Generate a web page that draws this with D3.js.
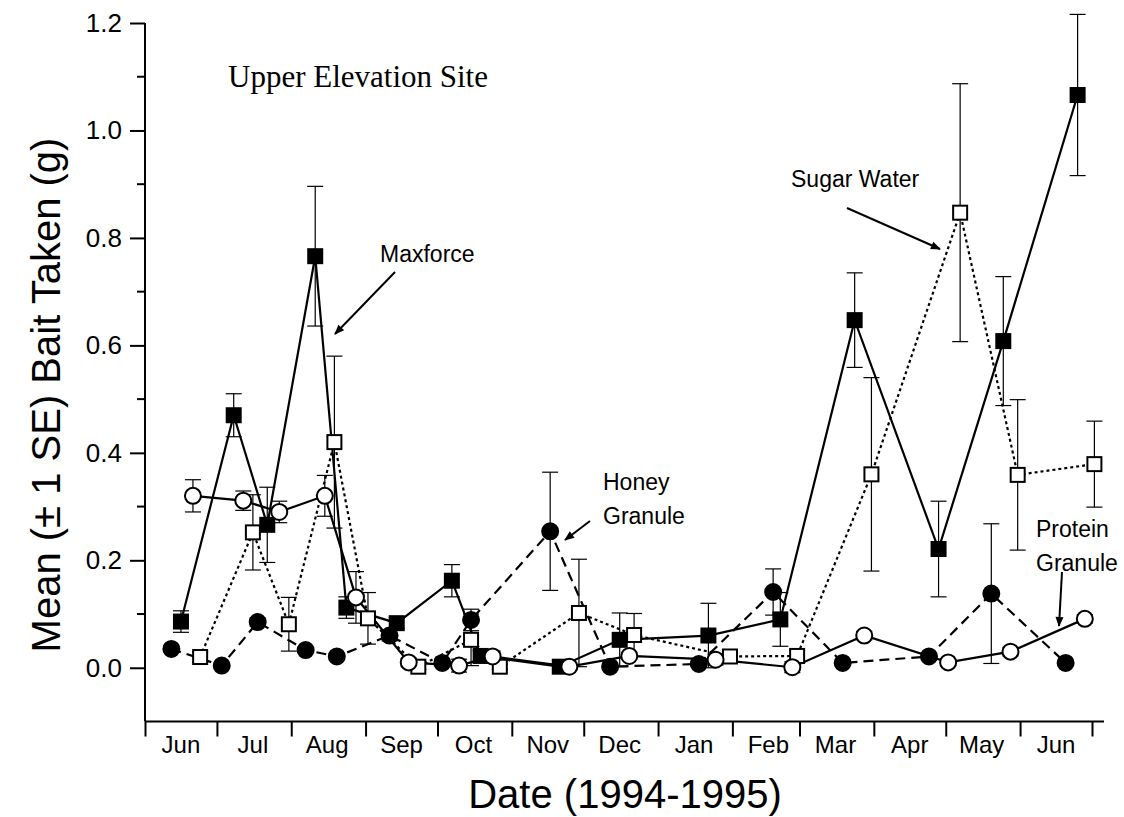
<!DOCTYPE html>
<html>
<head>
<meta charset="utf-8">
<script src="https://cdn.jsdelivr.net/npm/d3@7"></script>
<style>
  body { margin: 0; background: #fff; }
  svg { display: block; }
  text { font-family: Arial, "Liberation Sans", sans-serif; fill: #000; }
</style>
</head>
<body>
<svg id="chart" width="1124" height="817"></svg>
<script>
// sampling dates, means and SE
const maxforceDates = ["1994-06-16","1994-07-08","1994-07-22","1994-08-11","1994-08-24","1994-09-14","1994-10-07","1994-10-19","1994-11-21","1994-12-16","1995-01-22","1995-02-21","1995-03-24","1995-04-28","1995-05-25","1995-06-25"];
const maxforceMean = [0.086,0.47,0.266,0.766,0.112,0.083,0.162,0.022,0.002,0.052,0.06,0.09,0.647,0.221,0.608,1.066];
const maxforceSE = [0.02,0.04,0.07,0.13,0.02,0.01,0.03,0.01,0,0.05,0.06,0.05,0.088,0.089,0.12,0.15];

const sugarDates = ["1994-06-24","1994-07-16","1994-07-31","1994-08-19","1994-09-02","1994-09-23","1994-10-15","1994-10-27","1994-11-29","1994-12-22","1995-01-31","1995-02-28","1995-03-31","1995-05-07","1995-05-31","1995-07-02"];
const sugarMean = [0.02,0.252,0.081,0.42,0.092,0.002,0.052,0.002,0.102,0.061,0.021,0.022,0.36,0.847,0.359,0.379];
const sugarSE = [0.01,0.07,0.05,0.16,0.048,0.005,0.048,0.005,0.1,0.04,0.01,0.01,0.18,0.24,0.14,0.08];

const honeyDates = ["1994-06-12","1994-07-03","1994-07-18","1994-08-07","1994-08-20","1994-09-11","1994-10-03","1994-10-15","1994-11-17","1994-12-12","1995-01-18","1995-02-18","1995-03-19","1995-04-24","1995-05-20","1995-06-20"];
const honeyMean = [0.035,0.004,0.085,0.033,0.021,0.06,0.009,0.089,0.254,0.002,0.007,0.141,0.009,0.021,0.138,0.009];
const honeySE = [0.005,0.003,0.008,0.005,0.005,0.01,0.005,0.02,0.11,0.002,0.004,0.043,0.004,0.005,0.13,0.004];

const proteinDates = ["1994-06-21","1994-07-12","1994-07-27","1994-08-15","1994-08-28","1994-09-19","1994-10-10","1994-10-24","1994-11-25","1994-12-20","1995-01-25","1995-02-26","1995-03-28","1995-05-02","1995-05-28","1995-06-28"];
const proteinMean = [0.32,0.311,0.29,0.32,0.131,0.01,0.004,0.021,0.002,0.022,0.015,0.001,0.06,0.01,0.03,0.091];
const proteinSE = [0.03,0.018,0.02,0.038,0.048,0.008,0.012,0.01,0.004,0.006,0.01,0.01,0.008,0.006,0.008,0.008];

const yMajorTicks = [0, 0.2, 0.4, 0.6, 0.8, 1.0, 1.2];
const yMinorTicks = [0.1, 0.3, 0.5, 0.7, 0.9, 1.1];

const parse = d3.timeParse("%Y-%m-%d");
const mk = (dates, mean, se) => dates.map((d, i) => ({ date: parse(d), v: mean[i], se: se[i] }));

const series = [
  { name: "Maxforce", data: mk(maxforceDates, maxforceMean, maxforceSE), shape: "square", fill: "#000", dash: null },
  { name: "Sugar Water", data: mk(sugarDates, sugarMean, sugarSE), shape: "square", fill: "#fff", dash: "3,3" },
  { name: "Honey Granule", data: mk(honeyDates, honeyMean, honeySE), shape: "circle", fill: "#000", dash: "10,6" },
  { name: "Protein Granule", data: mk(proteinDates, proteinMean, proteinSE), shape: "circle", fill: "#fff", dash: null },
];

const svg = d3.select("#chart");

const x = d3.scaleTime()
  .domain([parse("1994-06-01"), parse("1995-07-01")])
  .range([145, 1092]);
const y = d3.scaleLinear()
  .domain([-0.1, 1.2])
  .range([721.5, 23]);
const xEnd = 1104;

// arrowhead
svg.append("defs").append("marker")
  .attr("id", "arrow")
  .attr("viewBox", "0 0 10 10")
  .attr("refX", 9).attr("refY", 5)
  .attr("markerWidth", 13).attr("markerHeight", 10)
  .attr("markerUnits", "userSpaceOnUse")
  .attr("orient", "auto")
  .append("path")
  .attr("d", "M0,1 L10,5 L0,9 z")
  .attr("fill", "#000");

// y axis
const yAxis = svg.append("g")
  .attr("transform", "translate(145,0)")
  .call(d3.axisLeft(y).tickValues(yMajorTicks).tickSize(15).tickPadding(8).tickFormat(d3.format(".1f")));
yAxis.selectAll("text").style("font-size", "26px");
yAxis.select(".domain").attr("stroke-width", 2).attr("d", `M0,${y(-0.1)}V${y(1.2)}`);
yAxis.selectAll(".tick line").attr("stroke-width", 2);
svg.append("g")
  .attr("transform", "translate(145,0)")
  .selectAll("line")
  .data(yMinorTicks)
  .join("line")
  .attr("x1", -8).attr("x2", 0)
  .attr("y1", d => y(d)).attr("y2", d => y(d))
  .attr("stroke", "#000").attr("stroke-width", 2);

// x axis: month boundary ticks, labels centred in each month
const monthStarts = d3.timeMonth.range(parse("1994-06-01"), parse("1995-07-02"));
const xAxis = svg.append("g")
  .attr("transform", `translate(0,${y(-0.1)})`)
  .call(d3.axisBottom(x).tickValues(monthStarts).tickSize(15).tickFormat(""));
xAxis.select(".domain").attr("stroke-width", 2).attr("d", `M145,0H${xEnd}`);
xAxis.selectAll(".tick line").attr("stroke-width", 2);
svg.append("g")
  .selectAll("text")
  .data(monthStarts.slice(0, -1))
  .join("text")
  .attr("x", d => x(d3.timeDay.offset(d, 15)))
  .attr("y", 753)
  .attr("text-anchor", "middle")
  .style("font-size", "24px")
  .text(d3.timeFormat("%b"));

// axis titles
svg.append("text")
  .attr("x", 625).attr("y", 808)
  .attr("text-anchor", "middle")
  .style("font-size", "40px")
  .text("Date (1994-1995)");
svg.append("text")
  .attr("transform", "translate(60,395) rotate(-90)")
  .attr("text-anchor", "middle")
  .style("font-size", "40px")
  .text("Mean (± 1 SE) Bait Taken (g)");

// lines
const line = d3.line().x(d => x(d.date)).y(d => y(d.v));
svg.append("g")
  .selectAll("path")
  .data(series)
  .join("path")
  .attr("d", s => line(s.data))
  .attr("fill", "none")
  .attr("stroke", "#000")
  .attr("stroke-width", 2.2)
  .attr("stroke-dasharray", s => s.dash);

// error bars
const err = svg.append("g").attr("stroke", "#000").attr("stroke-width", 1.2);
series.forEach(s => {
  s.data.filter(d => d.se > 0).forEach(d => {
    const cx = x(d.date);
    err.append("line").attr("x1", cx).attr("x2", cx).attr("y1", y(d.v - d.se)).attr("y2", y(d.v + d.se));
    [d.v - d.se, d.v + d.se].forEach(e => {
      err.append("line").attr("x1", cx - 8).attr("x2", cx + 8).attr("y1", y(e)).attr("y2", y(e));
    });
  });
});

// markers
series.forEach(s => {
  const g = svg.append("g");
  if (s.shape === "square") {
    g.selectAll("rect")
      .data(s.data)
      .join("rect")
      .attr("x", d => x(d.date) - 7)
      .attr("y", d => y(d.v) - 7)
      .attr("width", 14).attr("height", 14)
      .attr("fill", s.fill)
      .attr("stroke", "#000").attr("stroke-width", 2);
  } else {
    g.selectAll("circle")
      .data(s.data)
      .join("circle")
      .attr("cx", d => x(d.date))
      .attr("cy", d => y(d.v))
      .attr("r", 8)
      .attr("fill", s.fill)
      .attr("stroke", "#000").attr("stroke-width", 2);
  }
});

// annotations
svg.append("text")
  .attr("x", 228).attr("y", 87)
  .style("font-family", "'Times New Roman', 'Liberation Serif', serif")
  .style("font-size", "31px")
  .text("Upper Elevation Site");

const note = (lines, tx, ty, x1, y1, x2, y2) => {
  svg.append("text")
    .attr("x", tx).attr("y", ty)
    .style("font-size", "23px")
    .selectAll("tspan")
    .data(lines)
    .join("tspan")
    .attr("x", tx)
    .attr("dy", (d, i) => i ? 34 : 0)
    .text(d => d);
  svg.append("line")
    .attr("x1", x1).attr("y1", y1).attr("x2", x2).attr("y2", y2)
    .attr("stroke", "#000").attr("stroke-width", 2)
    .attr("marker-end", "url(#arrow)");
};
note(["Maxforce"], 380, 262, 395, 272, 335, 334);
note(["Sugar Water"], 791, 187, 847, 208, 940, 249);
note(["Honey", "Granule"], 603, 490, 590, 521, 565, 540);
note(["Protein", "Granule"], 1036, 537, 1062, 572, 1059, 626);
</script>
</body>
</html>
